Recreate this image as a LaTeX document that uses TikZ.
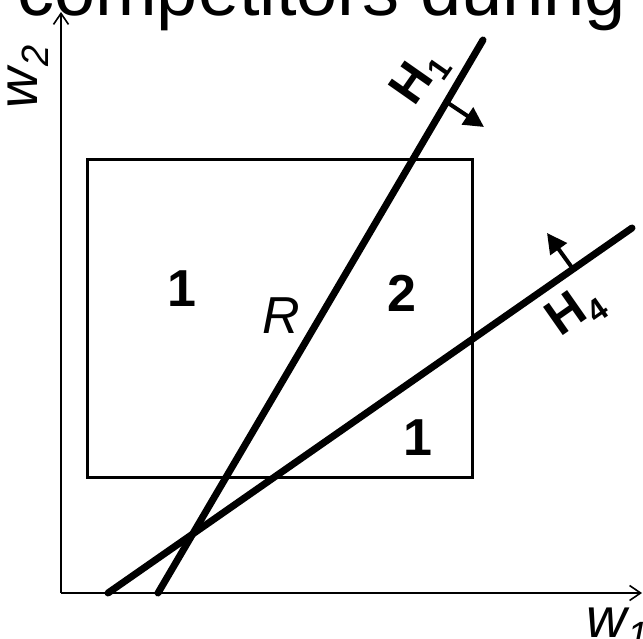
\documentclass[tikz,border=0pt]{standalone}
\usepackage{fontspec}
\setmainfont{Liberation Sans}
\usetikzlibrary{arrows.meta}
\tikzset{
  axisline/.style={line width=2pt, -{Straight Barb[length=11pt,width=15pt,line width=1.6pt]}},
  boxline/.style={line width=3pt},
  hline/.style={line width=7pt, line cap=round},
  normalarrow/.style={line width=4pt, -{Triangle[length=20pt,width=20pt]}},
  region/.style={inner sep=0pt, font=\fontsize{52}{56}\selectfont\bfseries},
  hlabel/.style={inner sep=0pt, font=\fontsize{50}{54}\selectfont\bfseries},
  axlabel/.style={inner sep=0pt, font=\fontsize{56}{60}\selectfont\itshape},
}
\newcommand{\lowsub}[2]{\kern1pt\raisebox{-0.2em}{\fontsize{#1}{#1}\selectfont #2}}
\begin{document}
\begin{tikzpicture}[x=1pt,y=-1pt]
\useasboundingbox (0,0) rectangle (643,639);
\clip (0,0) rectangle (643,639);
% clipped title
\node[anchor=base west, inner sep=0pt, font=\fontsize{74}{80}\selectfont] (title) at (17,15.5) {competitors during};
% axes
\coordinate (O) at (61,593);
\coordinate (Ytip) at (61,12);
\coordinate (Xtip) at (642,593);
\draw[axisline] (O) -- (Ytip);
\draw[axisline] (O) -- (Xtip);
% box
\draw[boxline] (87.5,159.5) rectangle (472.5,477.5);
% hyperplanes
\coordinate (h1b) at (158,593);
\coordinate (h1t) at (483,40);
\coordinate (h4b) at (108,593);
\coordinate (h4t) at (632,228);
\draw[hline] (h1b) -- (h1t);
\draw[hline] (h4b) -- (h4t);
% normal arrows
\coordinate (n1s) at (446.6,102);
\coordinate (n1e) at (484,127);
\coordinate (n4s) at (573,269);
\coordinate (n4e) at (547,233);
\draw[normalarrow] (n1s) -- (n1e);
\draw[normalarrow] (n4s) -- (n4e);
% labels
\node[hlabel, rotate=55] (H1) at (420,78) {H\lowsub{32}{1}};
\node[hlabel, rotate=35] (H4) at (576,312) {H\lowsub{32}{4}};
\node[region] (r1) at (182,289) {1};
\node[region] (r2) at (402,293) {2};
\node[region] (r3) at (418,438) {1};
\node[inner sep=0pt, font=\fontsize{52}{56}\selectfont\itshape] (R) at (281,316) {R};
\node[axlabel, rotate=90] (w2) at (28,77) {w\lowsub{38}{2}};
\node[axlabel, anchor=base west] (w1) at (586,637) {w\lowsub{38}{1}};
\end{tikzpicture}
\end{document}
